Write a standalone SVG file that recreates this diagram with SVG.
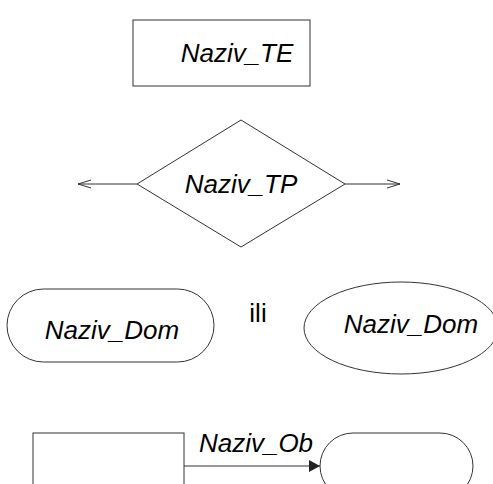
<svg xmlns="http://www.w3.org/2000/svg" width="493" height="484" viewBox="0 0 493 484">
<style>
.s{fill:#fff;stroke:#333;stroke-width:1}
.t{font-family:"Liberation Sans",Arial,sans-serif;font-style:italic;font-size:26px;fill:#000;text-anchor:middle}
.c{fill:none;stroke:#333;stroke-width:1}
</style>
<defs>
<marker id="open" markerWidth="14" markerHeight="10" refX="13" refY="5" orient="auto" markerUnits="userSpaceOnUse">
<path d="M0,1 L13,5 L0,9" fill="none" stroke="#333" stroke-width="1"/>
</marker>
<marker id="fill" markerWidth="12" markerHeight="12" refX="11" refY="6" orient="auto" markerUnits="userSpaceOnUse">
<path d="M0,0 L11,6 L0,12 Z" fill="#222"/>
</marker>
</defs>
<rect width="493" height="484" fill="#fff"/>
<g id="connectors">
<line class="c" x1="137" y1="184" x2="78" y2="184" marker-end="url(#open)"/>
<line class="c" x1="345" y1="184" x2="400" y2="184" marker-end="url(#open)"/>
<line class="c" x1="184" y1="466" x2="320" y2="466" marker-end="url(#fill)"/>
<text class="t" x="256" y="452">Naziv_Ob</text>
</g>
<g id="te">
<rect class="s" x="133" y="20" width="177" height="66"/>
<text class="t" x="237" y="62">Naziv_TE</text>
</g>
<g id="tp">
<polygon class="s" points="241,120 345,184 241,247 137,184"/>
<text class="t" x="241" y="193">Naziv_TP</text>
</g>
<g id="dom1">
<rect class="s" x="7" y="289" width="207" height="73" rx="36.5" ry="36.5"/>
<text class="t" x="112" y="339">Naziv_Dom</text>
</g>
<g id="ili">
<text x="258" y="322" font-family="Liberation Sans,Arial,sans-serif" font-size="26" text-anchor="middle" fill="#000">ili</text>
</g>
<g id="dom2">
<ellipse class="s" cx="401" cy="328" rx="97" ry="46"/>
<text class="t" x="411" y="333">Naziv_Dom</text>
</g>
<g id="obj1">
<rect class="s" x="33" y="433" width="151" height="70"/>
</g>
<g id="obj2">
<rect class="s" x="320" y="433" width="153" height="66" rx="33" ry="33"/>
</g>
</svg>
